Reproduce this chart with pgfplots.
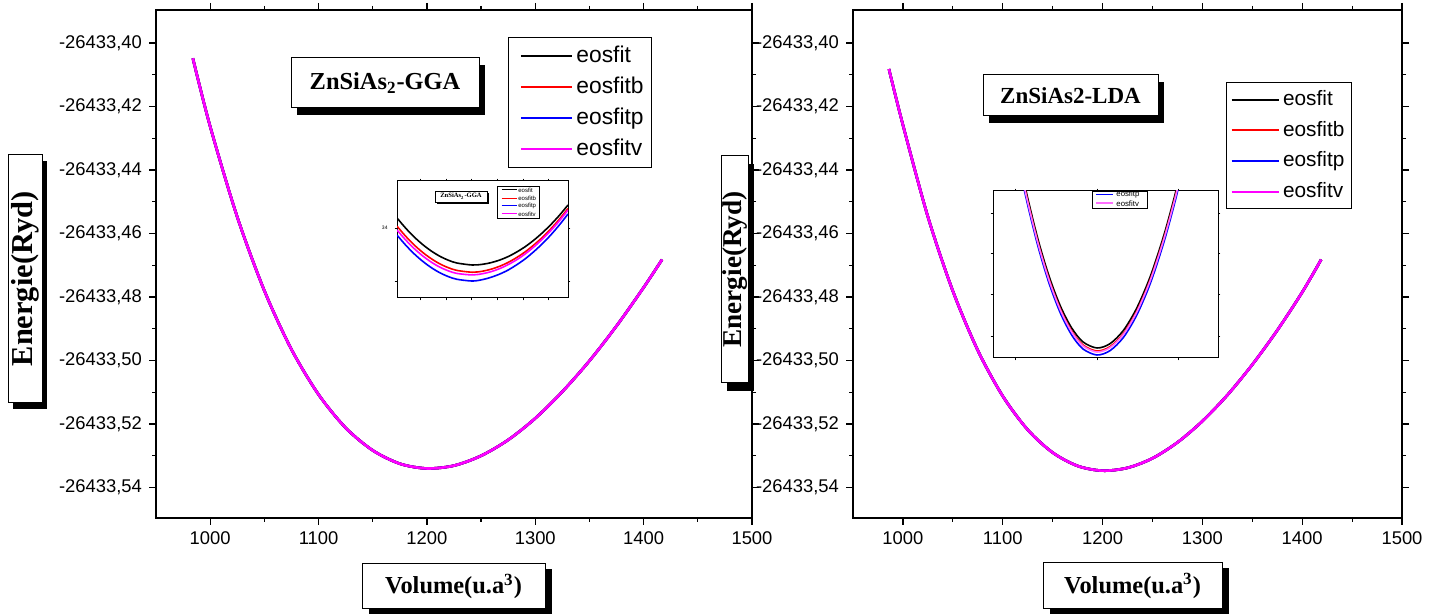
\documentclass[border=0pt]{standalone}
\usepackage{fontspec}
\setmainfont{Liberation Sans}
\newfontfamily\tnr{Liberation Serif}
\usepackage{pgfplots}
\usepackage{pgfplotstable}
\pgfplotsset{compat=1.18}
\definecolor{mymag}{RGB}{255,0,255}
\definecolor{lmag}{RGB}{255,110,255}
\definecolor{myblue}{RGB}{0,0,255}
\definecolor{myred}{RGB}{255,0,0}

% Energies stored as E + 26433 Ryd (tick labels show full values)
\pgfplotstableread{
V E
984 -0.4048
1000 -0.4263
1025 -0.4548
1050 -0.4780
1075 -0.4965
1100 -0.5107
1125 -0.5212
1150 -0.5283
1175 -0.5325
1200 -0.5340
1225 -0.5331
1250 -0.5300
1275 -0.5250
1300 -0.5182
1325 -0.5098
1350 -0.5001
1375 -0.4891
1400 -0.4770
1417 -0.4682
}\gga
\pgfplotstableread{
V E
986 -0.4082
1000 -0.4258
1025 -0.4547
1050 -0.4781
1075 -0.4968
1100 -0.5112
1125 -0.5218
1150 -0.5290
1175 -0.5332
1200 -0.5347
1225 -0.5338
1250 -0.5308
1275 -0.5258
1300 -0.5191
1325 -0.5109
1350 -0.5013
1375 -0.4905
1400 -0.4785
1419 -0.4682
}\lda
% inset (zoom near minimum), normalised coordinates
\pgfplotstableread{
t k r m b
0    0.684 0.614 0.581 0.538
0.05 0.598 0.529 0.497 0.453
0.1  0.522 0.454 0.423 0.378
0.15 0.457 0.390 0.360 0.314
0.2  0.402 0.336 0.307 0.260
0.25 0.357 0.292 0.264 0.216
0.3  0.323 0.259 0.232 0.183
0.35 0.299 0.236 0.210 0.160
0.44 0.282 0.220 0.197 0.145
0.5  0.288 0.229 0.2075 0.157
0.55 0.302 0.246 0.225 0.177
0.6  0.324 0.271 0.251 0.204
0.65 0.354 0.304 0.285 0.239
0.7  0.393 0.346 0.327 0.284
0.75 0.439 0.395 0.377 0.335
0.8  0.494 0.453 0.436 0.396
0.85 0.557 0.518 0.503 0.464
0.9  0.628 0.592 0.577 0.540
0.95 0.707 0.674 0.660 0.625
1    0.795 0.765 0.752 0.718
}\insetA
\pgfplotstableread{
t k r m b
0.10 1.302 1.284 1.278 1.260
0.147 1.0 0.982 0.976 0.958
0.20 0.710 0.692 0.686 0.668
0.25 0.486 0.468 0.462 0.444
0.30 0.309 0.291 0.285 0.267
0.35 0.179 0.161 0.155 0.137
0.40 0.096 0.078 0.072 0.054
0.462 0.060 0.042 0.036 0.018
0.52 0.0857 0.068 0.062 0.044
0.58 0.166 0.148 0.142 0.124
0.64 0.302 0.284 0.278 0.260
0.70 0.492 0.474 0.468 0.450
0.76 0.738 0.720 0.714 0.696
0.813 1.0 0.982 0.976 0.958
0.86 1.269 1.251 1.245 1.227
}\insetB

\pgfplotsset{
  mainax/.style={
    scale only axis, anchor=south west, height=254pt,
    xmin=950, xmax=1500, ymin=-0.5496, ymax=-0.3896,
    xtick={1000,1100,1200,1300,1400,1500},
    xticklabels={1000,1100,1200,1300,1400,1500},
    minor x tick num=1,
    ytick={-0.54,-0.52,-0.50,-0.48,-0.46,-0.44,-0.42,-0.40},
    yticklabels={{-26433,54},{-26433,52},{-26433,50},{-26433,48},{-26433,46},{-26433,44},{-26433,42},{-26433,40}},
    minor y tick num=1,
    tick align=outside,
    major tick length=3.5pt, minor tick length=2pt,
    every tick/.append style={line width=0.6pt, black},
    axis line style={line width=0.8pt},
    tick label style={font=\fontsize{9.2}{10}\selectfont},
    legend cell align=left,
    every axis plot/.append style={line width=1.3pt, smooth},
  },
  insetax/.style={
    scale only axis, anchor=south west,
    xmin=0, xmax=1, ymin=0, ymax=1,
    axis background/.style={fill=white},
    tick align=outside,
    major tick length=1.2pt,
    axis line style={line width=0.5pt},
    every tick/.append style={line width=0.4pt, black},
    xticklabels={},
    tick label style={font=\fontsize{2.5}{3}\selectfont},
    every axis plot/.append style={line width=0.8pt, smooth},
  },
}

\begin{document}
\begin{tikzpicture}
\useasboundingbox (0,0) rectangle (719pt,307pt);

% ---------------- left panel (GGA)
\begin{axis}[mainax, at={(78pt,48pt)}, width=298pt,
  legend style={at={(axis description cs:0.590,0.947)}, anchor=north west,
    draw=black, line width=0.5pt, font=\fontsize{11.4}{13}\selectfont,
    inner xsep=2pt, inner ysep=1.5pt, row sep=0pt,
    nodes={inner xsep=1.75pt, inner ysep=2.25pt, text height=8.6pt, text depth=2.4pt}},
  legend image code/.code={\path (0pt,0pt); \draw[#1,line width=1pt] (3.75pt,0pt) -- (29.25pt,0pt);},
]
\addplot[black] table[x=V,y=E] {\gga};
\addlegendentry{eosfit}
\addplot[myred] table[x=V,y=E] {\gga};
\addlegendentry{eosfitb}
\addplot[myblue] table[x=V,y=E] {\gga};
\addlegendentry{eosfitp}
\addplot[mymag] table[x=V,y=E] {\gga};
\addlegendentry{eosfitv}
\end{axis}

% ---------------- right panel (LDA)
\begin{axis}[mainax, at={(426.5pt,48pt)}, width=274.5pt,
  legend style={at={(axis description cs:0.679,0.858)}, anchor=north west,
    draw=black, line width=0.5pt, font=\fontsize{10.4}{12}\selectfont,
    inner xsep=2pt, inner ysep=0.9pt, row sep=0pt,
    nodes={inner xsep=1.75pt, inner ysep=2.5pt, text height=8pt, text depth=2.3pt}},
  legend image code/.code={\path (0pt,0pt); \draw[#1,line width=1pt] (0pt,0pt) -- (23.5pt,0pt);},
]
\addplot[black] table[x=V,y=E] {\lda};
\addlegendentry{eosfit}
\addplot[myred] table[x=V,y=E] {\lda};
\addlegendentry{eosfitb}
\addplot[myblue] table[x=V,y=E] {\lda};
\addlegendentry{eosfitp}
\addplot[mymag] table[x=V,y=E] {\lda};
\addlegendentry{eosfitv}
\end{axis}

% ---------------- left inset
\begin{axis}[insetax, at={(198.5pt,158pt)}, width=85.5pt, height=58.5pt,
  xtick={0.135,0.287,0.433,0.585,0.737,0.883},
  ytick={0.145,0.598}, yticklabels={{},{34}}]
\addplot[black] table[x=t,y=k] {\insetA};
\addplot[myred] table[x=t,y=r] {\insetA};
\addplot[mymag] table[x=t,y=m] {\insetA};
\addplot[myblue] table[x=t,y=b] {\insetA};
\end{axis}
% inset title and legend
\fill[black] (218.5pt,210.5pt) rectangle (244.5pt,205pt);
\draw[fill=white,line width=0.3pt] (217.5pt,211.5pt) rectangle (243.5pt,206pt);
\node[font=\tnr\bfseries\fontsize{3.3}{4}\selectfont] at (230.5pt,208.75pt) {ZnSiAs\textsubscript{2}-GGA};
\draw[fill=white,line width=0.3pt] (248.5pt,214pt) rectangle (269.5pt,198pt);
\draw[black,line width=0.5pt] (250.85pt,212pt) -- (258.35pt,212pt);
\draw[myred,line width=0.5pt] (250.85pt,207.9pt) -- (258.35pt,207.9pt);
\draw[myblue,line width=0.5pt] (250.85pt,204pt) -- (258.35pt,204pt);
\draw[mymag,line width=0.5pt] (250.85pt,200pt) -- (258.35pt,200pt);
\begin{scope}[every node/.style={anchor=west, inner sep=0pt, font=\fontsize{3}{3.5}\selectfont}]
\node at (259pt,212pt) {eosfit};
\node at (259pt,207.9pt) {eosfitb};
\node at (259pt,204pt) {eosfitp};
\node at (259pt,200pt) {eosfitv};
\end{scope}

% ---------------- right inset
\begin{axis}[insetax, at={(496.5pt,128pt)}, width=112.5pt, height=83.5pt,
  xtick={0.098,0.462,0.822},
  ytick={0.132,0.383,0.629,0.868}, yticklabels={}]
\addplot[black] table[x=t,y=k] {\insetB};
\addplot[myred] table[x=t,y=r] {\insetB};
\addplot[myblue] table[x=t,y=b] {\insetB};
\addplot[lmag] table[x=t,y=m] {\insetB};
\end{axis}
\fill[gray!70!black] (546.6pt,211.5pt) rectangle (574.1pt,202.4pt);
\draw[fill=white,line width=0.3pt] (546pt,211.5pt) rectangle (573.5pt,203pt);
\draw[myblue,line width=0.5pt] (548pt,209.9pt) -- (556.5pt,209.9pt);
\draw[lmag,line width=1pt] (548pt,205.3pt) -- (556.5pt,205.3pt);
\begin{scope}[every node/.style={anchor=west, inner sep=0pt, font=\fontsize{3.9}{4.5}\selectfont}]
\node at (558pt,209.9pt) {eosfitp};
\node at (558pt,205.3pt) {eosfitv};
\end{scope}

% ---------------- titles and axis labels (boxes with shadows)
\fill[black] (148.5pt,274.5pt) rectangle (242.5pt,249.5pt);
\draw[fill=white,line width=0.5pt] (145.5pt,278pt) rectangle (239.5pt,253pt);
\node[font=\tnr\bfseries\fontsize{12.2}{14}\selectfont] at (192.5pt,265.5pt) {ZnSiAs\textsubscript{2}-GGA};

\fill[black] (494.5pt,266pt) rectangle (582pt,245.5pt);
\draw[fill=white,line width=0.5pt] (491.5pt,269.5pt) rectangle (579pt,249pt);
\node[font=\tnr\bfseries\fontsize{11.5}{13}\selectfont] at (535.25pt,259.25pt) {ZnSiAs2-LDA};

\fill[black] (6.5pt,226.5pt) rectangle (23.5pt,102.5pt);
\draw[fill=white,line width=0.5pt] (4pt,229.5pt) rectangle (21pt,105.5pt);
\node[rotate=90,font=\tnr\bfseries\fontsize{15.2}{17}\selectfont] at (12.8pt,167.5pt) {Energie(Ryd)};

\fill[black] (363.5pt,225pt) rectangle (377pt,111.5pt);
\draw[fill=white,line width=0.5pt] (360.5pt,229pt) rectangle (374pt,115.5pt);
\node[rotate=90,font=\tnr\bfseries\fontsize{13.6}{15}\selectfont] at (367.6pt,172.25pt) {Energie(Ryd)};

\fill[black] (184.5pt,22.5pt) rectangle (276pt,0pt);
\draw[fill=white,line width=0.5pt] (181pt,25pt) rectangle (272.5pt,2.5pt);
\node[font=\tnr\bfseries\fontsize{12.2}{14}\selectfont] at (226.75pt,13.75pt) {Volume(u.a\textsuperscript{3})};

\fill[black] (525pt,23pt) rectangle (614.5pt,0pt);
\draw[fill=white,line width=0.5pt] (521.5pt,25.5pt) rectangle (611pt,2.5pt);
\node[font=\tnr\bfseries\fontsize{12.2}{14}\selectfont] at (566.25pt,14pt) {Volume(u.a\textsuperscript{3})};
\end{tikzpicture}
\end{document}
